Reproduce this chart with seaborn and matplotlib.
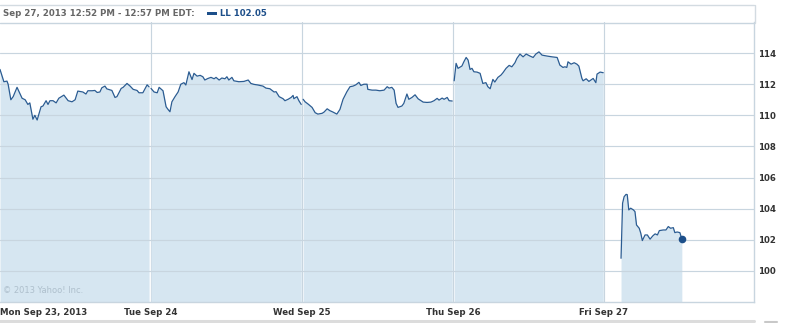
import matplotlib
matplotlib.use("Agg")
import matplotlib.pyplot as plt
from matplotlib.lines import Line2D
from matplotlib.patches import Rectangle
import seaborn as sns
import pandas as pd

# ---------------- data ----------------
day_labels = ["Mon Sep 23, 2013", "Tue Sep 24", "Wed Sep 25", "Thu Sep 26", "Fri Sep 27"]
session_minutes = 390  # 9:30 - 16:00

mon_min = [0, 10, 18, 21, 28, 34, 44, 57, 65, 72, 77, 85, 90, 96, 106, 111, 119, 124, 129, 137,
           145, 152, 165, 176, 186, 194, 201, 214, 222, 227, 238, 245, 251, 258, 263, 271, 276, 289,
           297, 302, 313, 318, 328, 336, 344, 354, 359, 369, 380, 385]
mon_px = [112.95, 112.16, 112.2, 112.0, 111.0, 111.2, 111.8, 111.1, 111.0, 110.7, 110.8, 109.75,
          110.0, 109.7, 110.55, 110.6, 110.94, 110.7, 110.94, 110.94, 110.8, 111.1, 111.3, 110.94,
          110.87, 111.0, 111.56, 111.5, 111.37, 111.58, 111.58, 111.6, 111.47, 111.5, 111.77, 111.88,
          111.7, 111.6, 111.15, 111.2, 111.73, 111.8, 112.05, 111.88, 111.67, 111.6, 111.45, 111.45,
          111.96, 111.83]

tue_min = [0, 8, 16, 21, 31, 39, 44, 49, 54, 62, 70, 77, 85, 90, 98, 106, 111, 119, 127, 134,
           139, 147, 155, 163, 168, 176, 183, 191, 196, 201, 209, 214, 227, 240, 251, 258, 266, 276,
           289, 297, 307, 318, 323, 331, 341, 346, 354, 362, 367, 369, 377, 382, 388]
tue_px = [111.73, 111.5, 111.45, 111.8, 111.58, 110.55, 110.38, 110.23, 110.87, 111.2, 111.5, 112.0,
          112.1, 111.95, 112.8, 112.3, 112.7, 112.52, 112.57, 112.48, 112.27, 112.37, 112.44, 112.35,
          112.44, 112.27, 112.4, 112.35, 112.48, 112.27, 112.44, 112.22, 112.16, 112.18, 112.27,
          112.05, 111.99, 111.95, 111.88, 111.75, 111.71, 111.5, 111.52, 111.2, 111.07, 110.94,
          111.03, 111.15, 111.28, 111.07, 111.2, 110.94, 110.7]

wed_min = [3, 8, 16, 26, 34, 41, 52, 57, 65, 72, 80, 90, 98, 106, 116, 124, 132, 139, 147, 152,
           160, 168, 170, 181, 191, 201, 212, 220, 225, 232, 238, 243, 248, 258, 263, 271, 276, 284,
           292, 300, 313, 323, 333, 341, 349, 354, 362, 367, 375, 380, 388]
wed_px = [111.03, 110.87, 110.72, 110.51, 110.17, 110.08, 110.13, 110.21, 110.42, 110.3, 110.21,
          110.08, 110.38, 111.03, 111.52, 111.84, 111.88, 111.96, 112.12, 111.92, 112.0, 112.0,
          111.67, 111.62, 111.62, 111.58, 111.62, 111.84, 111.75, 111.8, 111.62, 110.77, 110.51,
          110.6, 110.77, 111.37, 111.03, 111.15, 111.32, 111.06, 110.85, 110.83, 110.85, 110.94,
          111.09, 110.98, 111.11, 111.03, 111.15, 110.94, 110.92]

thu_min = [3, 8, 13, 23, 28, 34, 39, 44, 49, 54, 62, 70, 77, 85, 90, 96, 103, 108, 116, 124,
           129, 137, 145, 152, 160, 165, 173, 181, 189, 199, 207, 214, 222, 230, 243, 256, 269, 276,
           284, 289, 294, 297, 305, 313, 320, 325, 333, 336, 344, 351, 362, 369, 372, 380, 388]
thu_px = [112.22, 113.34, 113.02, 113.17, 113.44, 113.72, 113.55, 112.95, 113.02, 112.8, 112.78,
          112.7, 112.05, 112.1, 111.84, 111.71, 112.31, 112.14, 112.44, 112.59, 112.74, 113.02,
          113.21, 113.12, 113.38, 113.66, 113.94, 113.76, 113.94, 113.81, 113.72, 113.94, 114.08,
          113.87, 113.81, 113.76, 113.72, 113.23, 113.08, 113.12, 113.08, 113.44, 113.29, 113.38,
          113.29, 113.17, 112.37, 112.22, 112.35, 112.18, 112.37, 112.1, 112.65, 112.78, 112.74]

fri_min = [44, 48, 52, 57, 60, 64, 69, 76, 80, 84, 91, 95, 99, 106, 112, 119, 126, 132, 138, 143,
           153, 160, 166, 172, 179, 183, 189, 196, 201]
fri_px = [100.81, 104.35, 104.77, 104.92, 104.9, 103.92, 104.03, 103.92, 103.81, 102.95, 102.74,
          102.42, 101.95, 102.31, 102.31, 102.04, 102.25, 102.38, 102.31, 102.59, 102.63, 102.63,
          102.85, 102.74, 102.78, 102.46, 102.5, 102.46, 102.05]

y_ticks = [100, 102, 104, 106, 108, 110, 112, 114]
header_text = "Sep 27, 2013 12:52 PM - 12:57 PM EDT:"
legend_text = "LL 102.05"
copyright_text = "\u00a9 2013 Yahoo! Inc."

# ---------------- frame ----------------
minutes = [mon_min, tue_min, wed_min, thu_min, fri_min]
prices = [mon_px, tue_px, wed_px, thu_px, fri_px]
rows = []
for d, (mm, pp) in enumerate(zip(minutes, prices)):
    for m, p in zip(mm, pp):
        rows.append({"day": d, "x": d * session_minutes + m, "price": p})
df = pd.DataFrame(rows)

LINE = "#2b5c92"
FILL = "#d6e6f1"
GRID = "#c8d5df"
DARK = "#1d4f8a"

sns.set_theme(style="white")
plt.rcParams["font.family"] = ["DejaVu Sans"]

W, H = 798, 323
fig = plt.figure(figsize=(W / 100, H / 100), dpi=100)
ax = fig.add_axes([0, (H - 302) / H, 754 / W, (302 - 22) / H])

YMIN, YMAX = 98, 116
XMAX = 754 / 151 * session_minutes

for d in range(5):
    sub = df[df["day"] == d]
    ax.fill_between(sub["x"], sub["price"], YMIN, color=FILL, lw=0, zorder=1)
    sns.lineplot(data=sub, x="x", y="price", ax=ax, color=LINE, lw=0.9, zorder=3,
                 estimator=None, legend=False)

last = df.iloc[-1]
ax.scatter([last["x"]], [last["price"]], s=30, color=DARK, zorder=4, linewidths=0)

for yv in y_ticks:
    ax.axhline(yv, color=GRID, lw=0.85, zorder=2)
for d in range(1, 5):
    ax.axvline(d * session_minutes, color=GRID, lw=0.85, zorder=0.5)

ax.set_xlim(0, XMAX)
ax.set_ylim(YMIN, YMAX)
ax.set_xlabel("")
ax.set_ylabel("")
ax.grid(False)

ax.yaxis.tick_right()
ax.set_yticks(y_ticks)
ax.set_yticklabels([str(v) for v in y_ticks], fontsize=6.2, fontweight="bold", color="#333333")
ax.tick_params(axis="y", length=0, pad=3)

xt = [d * session_minutes for d in range(5)]
ax.set_xticks(xt)
ax.set_xticklabels(day_labels, fontsize=6.2, fontweight="bold", color="#333333")
ax.tick_params(axis="x", length=0, pad=4)
ax.get_xticklabels()[0].set_horizontalalignment("left")

for s in ["left", "top"]:
    ax.spines[s].set_visible(False)
for s in ["right", "bottom"]:
    ax.spines[s].set_color(GRID)
    ax.spines[s].set_linewidth(1.0)

ax.text(0.004, 0.025, copyright_text, transform=ax.transAxes, fontsize=6, color="#aebfcc",
        ha="left", va="bottom", zorder=5)

# header box
def fx(px):
    return px / W

def fy(py):
    return 1 - py / H

fig.add_artist(Line2D([0, fx(754)], [fy(4.5), fy(4.5)], color="#d3dbe1", lw=1.0))
fig.add_artist(Line2D([0, fx(754)], [fy(22.5), fy(22.5)], color=GRID, lw=1.0))
fig.add_artist(Line2D([fx(754.5), fx(754.5)], [fy(4.5), fy(22.5)], color="#d3dbe1", lw=1.0))
fig.text(fx(3), fy(13.5), header_text, fontsize=6.2, fontweight="bold", color="#666666",
         ha="left", va="center")
fig.add_artist(Rectangle((fx(207), fy(15)), 10 / W, 3.3 / H, color=DARK, lw=0))
fig.text(fx(220), fy(13.5), legend_text, fontsize=6.2, fontweight="bold", color=DARK,
         ha="left", va="center")

# bottom scroll bar
fig.add_artist(Line2D([0, fx(754)], [fy(320.5), fy(320.5)], color="#dcdcdc", lw=2.2))
fig.add_artist(Line2D([fx(765), fx(777)], [fy(322), fy(322)], color="#c8c8c8", lw=1.5))

fig.savefig("out.png", dpi=100)
